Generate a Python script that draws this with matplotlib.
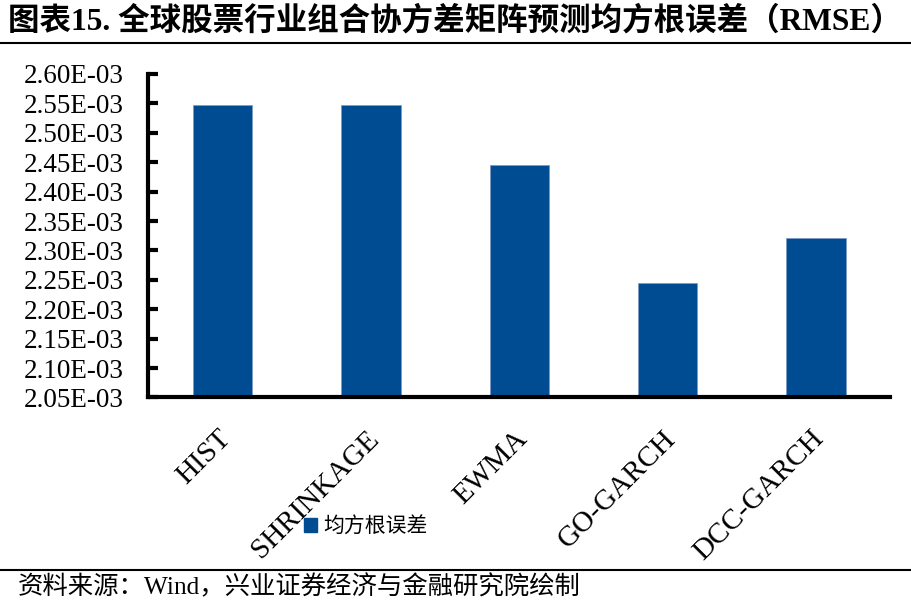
import numpy as np
import matplotlib
matplotlib.use("Agg")
import matplotlib.pyplot as plt
import matplotlib.transforms as mtransforms
from matplotlib.patches import Patch

plt.rcParams['font.family'] = ['Liberation Serif', 'Noto Sans CJK SC', 'DejaVu Sans']

# data
models = ['HIST', 'SHRINKAGE', 'EWMA', 'GO-GARCH', 'DCC-GARCH']
rmse = [2.5468e-3, 2.5468e-3, 2.4448e-3, 2.2452e-3, 2.3207e-3]
yticks = np.round(np.arange(2.05e-3, 2.6001e-3, 0.05e-3), 6)
ytick_labels = ['%.2fE-03' % (v * 1e3) for v in yticks]

title = '图表15. 全球股票行业组合协方差矩阵预测均方根误差（RMSE）'
source = '资料来源：Wind，兴业证券经济与金融研究院绘制'
legend_name = '均方根误差'
bar_color = '#004C93'

fig = plt.figure(figsize=(9.12, 6.09), dpi=100)
ax = fig.add_axes([0.1628, 0.3473, 0.976 - 0.1628, 0.8785 - 0.3473])

x = np.arange(len(models))
ax.bar(x, rmse, width=0.4, color=bar_color, edgecolor='#7f9cc4', linewidth=0.6)

ax.set_xlim(-0.5, len(models) - 0.5)
ax.set_ylim(yticks[0], yticks[-1])
ax.set_yticks(yticks)
ax.set_yticklabels(ytick_labels, fontsize=19.5)
ax.set_xticks([])

# rotated category labels, anchored just below the axis
lab_trans = ax.get_xaxis_transform() + mtransforms.ScaledTranslation(
    -0.05, -0.28, fig.dpi_scale_trans)
for xi, name in zip(x, models):
    ax.text(xi, 0, name, transform=lab_trans, fontsize=21, rotation=45,
            ha='right', va='top', rotation_mode='anchor')

for s in ['top', 'right']:
    ax.spines[s].set_visible(False)
ax.spines['left'].set_linewidth(3)
ax.spines['bottom'].set_linewidth(3)
ax.tick_params(axis='y', direction='in', length=7, width=3, pad=18)

# legend
fig.legend(handles=[Patch(color=bar_color, label=legend_name)],
           loc='center', bbox_to_anchor=(366 / 912, 1 - 527 / 609),
           frameon=False, fontsize=15, handlelength=0.65, handleheight=0.65,
           handletextpad=0.3)

# title, rules and source
fig.text(0.009, 1 - 21 / 609, title, fontsize=22.7, fontweight='bold',
         ha='left', va='center')
fig.add_artist(plt.Line2D([0, 1], [1 - 43 / 609] * 2, color='black', lw=1.5))
fig.add_artist(plt.Line2D([0, 1], [1 - 570 / 609] * 2, color='black', lw=1.5))
fig.text(0.02, 1 - 587 / 609, source, fontsize=18.3, ha='left', va='center')

fig.savefig('out.png', dpi=100)
